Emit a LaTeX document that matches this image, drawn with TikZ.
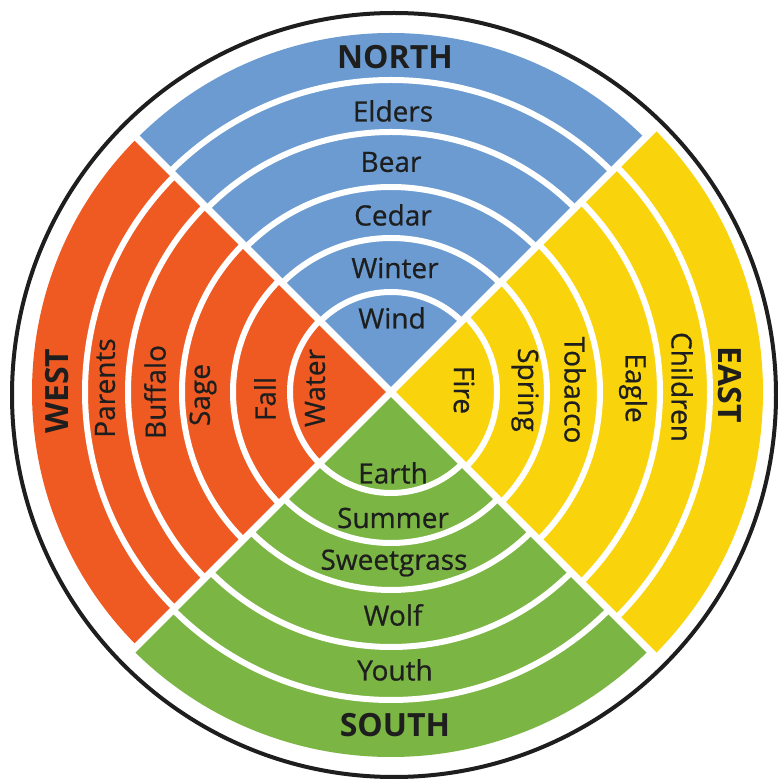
\documentclass[tikz,border=0pt]{standalone}
\usepackage{fontspec}
\setmainfont{Open Sans}
\newfontfamily\handfont[FakeBold=0.6]{Open Sans}
\definecolor{nblue}{RGB}{107,155,209}
\definecolor{norange}{RGB}{239,90,35}
\definecolor{nyellow}{RGB}{249,212,12}
\definecolor{ngreen}{RGB}{123,181,67}
\definecolor{ink}{RGB}{30,30,30}
\begin{document}
\begin{tikzpicture}[x=1pt,y=1pt,
  ring/.style={white,line width=6pt},
  cross/.style={white,line width=7pt},
  lbl/.style={text=ink,font=\handfont\fontsize{28}{30}\selectfont,inner sep=0pt},
  dirlbl/.style={text=ink,font=\fontsize{32}{34}\selectfont\bfseries,inner sep=0pt}]
\useasboundingbox (0,0) rectangle (778,780);
\fill[white] (0,0) rectangle (778,780);
\coordinate (C) at (391,388);
% quadrants
\fill[nblue] (C) -- ([shift={(C)}]45:359pt) arc[start angle=45,end angle=135,radius=359pt] -- cycle;
\fill[nyellow] (C) -- ([shift={(C)}]-45:372pt) arc[start angle=-45,end angle=45,radius=372pt] -- cycle;
\fill[ngreen] (C) -- ([shift={(C)}]225:365pt) arc[start angle=225,end angle=315,radius=365pt] -- cycle;
\fill[norange] (C) -- ([shift={(C)}]135:359pt) arc[start angle=135,end angle=225,radius=359pt] -- cycle;
% ring separators
\foreach \r in {100,154,205,260,312}
  \draw[ring] ([shift={(C)}]45:\r pt) arc[start angle=45,end angle=135,radius=\r pt];
\foreach \r in {106,156,209,269,319}
  \draw[ring] ([shift={(C)}]-45:\r pt) arc[start angle=-45,end angle=45,radius=\r pt];
\foreach \r in {101,151,198,255,308}
  \draw[ring] ([shift={(C)}]225:\r pt) arc[start angle=225,end angle=315,radius=\r pt];
\foreach \r in {101,158,209,263,306}
  \draw[ring] ([shift={(C)}]135:\r pt) arc[start angle=135,end angle=225,radius=\r pt];
% diagonal separators
\foreach \a in {45,135,225,315}
  \draw[cross] (C) -- ([shift={(C)}]\a:374pt);
% outer circle
\draw[ink,line width=4pt] (394,385) circle[radius=382pt];
% North
\node[dirlbl] (north) at (395,723) {NORTH};
\node[lbl] (elders) at (393,669) {Elders};
\node[lbl] (bear) at (391,618) {Bear};
\node[lbl] (cedar) at (393,565) {Cedar};
\node[lbl] (winter) at (395,512) {Winter};
\node[lbl] (wind) at (392,462) {Wind};
% South
\node[lbl] (earth) at (393,307) {Earth};
\node[lbl] (summer) at (393,262) {Summer};
\node[lbl] (sweetgrass) at (394,217) {Sweetgrass};
\node[lbl] (wolf) at (393,165) {Wolf};
\node[lbl] (youth) at (395,110) {Youth};
\node[dirlbl] (south) at (395,55) {SOUTH};
% East
\node[lbl,rotate=-90] (fire) at (464,390) {Fire};
\node[lbl,rotate=-90] (spring) at (525,390) {Spring};
\node[lbl,rotate=-90] (tobacco) at (575,390) {Tobacco};
\node[lbl,rotate=-90] (eagle) at (633,392) {Eagle};
\node[lbl,rotate=-90] (children) at (682,393) {Children};
\node[dirlbl,rotate=-90] (east) at (730,395) {EAST};
% West
\node[dirlbl,rotate=90] (west) at (57,389) {WEST};
\node[lbl,rotate=90] (parents) at (105,392) {Parents};
\node[lbl,rotate=90] (buffalo) at (155,388) {Buffalo};
\node[lbl,rotate=90] (sage) at (203,385) {Sage};
\node[lbl,rotate=90] (fall) at (265,381) {Fall};
\node[lbl,rotate=90] (water) at (315,392) {Water};
\end{tikzpicture}
\end{document}
